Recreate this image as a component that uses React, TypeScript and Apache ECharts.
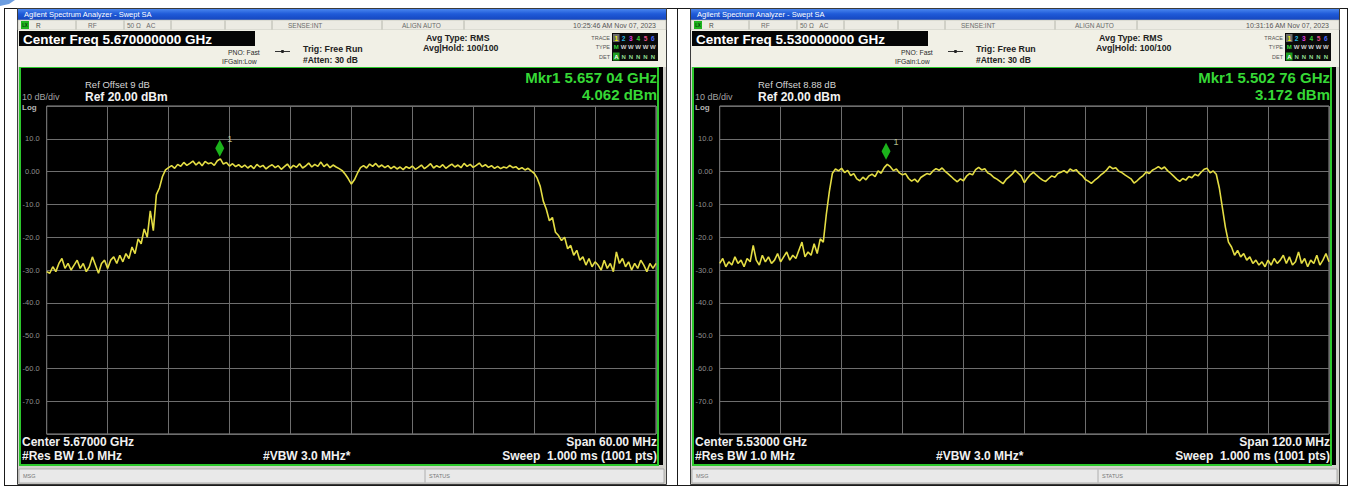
import { useEffect, useRef } from "react";
import * as echarts from "echarts";

const FONT = '"Liberation Sans", Arial, Helvetica, sans-serif';

// Sweep settings of the two captures (MHz)
const leftCenterMHz = 5670;
const leftSpanMHz = 60;
const rightCenterMHz = 5530;
const rightSpanMHz = 120;

// Amplitude scale
const refLevel = 20;
const dBPerDiv = 10;
const yTickLabels: Record<string, string> = {
  "10": "10.0",
  "0": "0.00",
  "-10": "-10.0",
  "-20": "-20.0",
  "-30": "-30.0",
  "-40": "-40.0",
  "-50": "-50.0",
  "-60": "-60.0",
  "-70": "-70.0",
};

// Trace 1, left capture (dBm), evenly spaced over the span
const leftTrace = [
  -30.5, -31, -29, -30.5, -28, -26.5, -29.5, -28, -30, -28.5,
  -27, -29.5, -28, -30.5, -29, -26, -28.5, -31, -28, -27,
  -29.5, -27, -26, -28, -25.5, -27.5, -25, -26.5, -23, -25,
  -20.5, -22, -17.5, -20, -12, -18, -7, -5, -1.5, 0.5,
  1.2, 1.8, 1.0, 2.2, 1.6, 2.8, 1.9, 2.5, 3.2, 2.0,
  2.9, 1.8, 3.1, 2.4, 2.7, 1.9, 3.3, 3.9, 2.3, 2.8,
  1.7, 2.4, 1.5, 2.1, 1.3, 2.0, 1.1, 1.8, 0.9, 2.2,
  1.4, 1.9, 0.8, 1.6, 2.1, 1.2, 1.8, 0.7, 1.5, 2.3,
  1.0, 1.9, 1.3, 2.4, 1.1, 1.7, 2.6, 1.4, 2.2, 1.6,
  2.9, 1.5, 2.3, 1.2, 2.0, 1.4, 0.9, 0.3, -0.8, -2.2,
  -3.8, -2.5, -0.5, 1.2, 1.8, 1.1, 2.3, 1.6, 2.5, 1.4,
  2.0, 1.2, 1.8, 0.9, 1.6, 0.8, 1.4, 0.6, 1.5, 1.0,
  1.7, 0.7, 1.3, 2.0, 0.9, 1.6, 2.4, 1.1, 1.8, 1.3,
  2.1, 1.0, 1.7, 2.3, 1.4, 2.0, 1.2, 2.5, 1.6, 2.2,
  1.3, 1.9, 2.6, 1.5, 2.1, 1.3, 1.8, 1.0, 1.6, 0.9,
  1.4, 1.1, 1.9, 1.2, 1.5, 0.7, 1.2, 0.5, 1.0, 0.2,
  -0.5, -2.0, -4.5, -9, -11.5, -15, -14, -18.5, -19.5, -21,
  -20, -23.5, -22.5, -25.5, -24, -27, -26, -28.5, -26.5, -29,
  -27.5, -28.5, -30, -27, -29.5, -28, -30.5, -24.5, -28, -26.5,
  -29, -27.5, -30, -28, -29.5, -27, -28.5, -30.5, -28, -29.5,
  -28,
];

// Trace 1, right capture (dBm), evenly spaced over the span
const rightTrace = [
  -28, -26.5, -29, -27.5, -28.5, -26, -28, -27, -29, -26.5,
  -27.5, -22.5, -27, -28.5, -25.5, -27.5, -26, -28, -27, -25,
  -27.5, -26, -24.5, -27, -25.5, -26.5, -24, -21.5, -26, -24.5,
  -25.5, -22, -25, -20.5, -21.5, -13, -6, -0.5, 0.8, 0.2,
  1.0, -0.3, 0.4, -1.2, -0.6, -2.2, -2.8, -1.7, -2.5, -1.3,
  -0.8, -1.5, 0.2, -0.5, 1.2, 2.2, 1.5, 0.3, 0.8, -0.4,
  -1.0, -0.6, -2.1, -2.9, -2.3, -3.2, -1.8, -1.2, -0.6, -0.9,
  0.2, 0.9, 0.4, 1.1, 0.1, -0.7, -1.5, -2.4, -3.1, -2.2,
  -2.8, -1.4, -0.6, -1.0, 0.6, 1.3, 0.5, 0.9, -0.4, -0.9,
  -1.8, -2.3, -3.0, -3.7, -2.4, -1.6, -0.8, 0.4, -0.5, -1.4,
  -3.4, -2.0, -0.9, -0.2, -1.1, -1.9, -2.6, -3.0, -2.1, -1.3,
  -1.7, -0.6, -0.2, 0.3, -0.4, 0.8, 0.2, 0.6, -0.5, -1.2,
  -2.4, -2.9, -3.6, -2.7, -2.0, -1.1, -0.4, 0.5, 1.6, 0.9,
  1.2, 0.1, -0.3, -1.0, -1.6, -2.2, -3.5, -2.8, -1.9, -1.2,
  -0.1, -0.6, 0.4, 0.9, 1.5, 0.8, 1.4, 0.3, -0.5, -1.4,
  -2.3, -3.0, -2.1, -2.6, -1.5, -1.9, -0.8, -1.3, -0.2, 0.7,
  1.0, -0.4, 0.2, -0.8, -5, -11, -17, -21.5, -23, -25.5,
  -24, -26, -25, -27, -26, -28, -27, -28.5, -27.5, -29,
  -27, -28.5, -26.5, -28, -27, -25.5, -28, -26, -28.5, -27.5,
  -24.5, -28, -26.5, -29, -27, -28, -25.5, -28.5, -27, -25,
  -27.5,
];

const leftMarker = { freqMHz: 5657.04, level: 4.062 };
const rightMarker = { freqMHz: 5502.76, level: 3.172 };

const panels = [
  {
    ox: 0,
    time: "10:25:46 AM Nov 07, 2023",
    centerMHz: leftCenterMHz,
    spanMHz: leftSpanMHz,
    refOffset: "Ref Offset 9 dB",
    spanLabel: "Span 60.00 MHz",
    trace: leftTrace,
    marker: leftMarker,
  },
  {
    ox: 673,
    time: "10:31:16 AM Nov 07, 2023",
    centerMHz: rightCenterMHz,
    spanMHz: rightSpanMHz,
    refOffset: "Ref Offset 8.88 dB",
    spanLabel: "Span 120.0 MHz",
    trace: rightTrace,
    marker: rightMarker,
  },
];

const traceColors = ["#f0f000", "#2ab8e8", "#e03ce0", "#38d838", "#e8508a", "#4a6aff"];

function chrome(p: (typeof panels)[number]) {
  const ox = p.ox;
  const els: any[] = [];
  const rect = (x: number, y: number, w: number, h: number, style: any, z = -5) =>
    els.push({ type: "rect", shape: { x: x + ox, y, width: w, height: h }, style, z, silent: true });
  const line = (x1: number, y1: number, x2: number, y2: number, stroke: string, w = 1, z = -4) =>
    els.push({ type: "line", shape: { x1: x1 + ox, y1, x2: x2 + ox, y2 }, style: { stroke, lineWidth: w }, z, silent: true });
  const text = (
    x: number,
    y: number,
    t: string,
    size: number,
    fill: string,
    bold = false,
    align: "left" | "right" | "center" = "left"
  ) =>
    els.push({
      type: "text",
      x: x + ox,
      y,
      z: 5,
      silent: true,
      style: {
        text: t,
        fontSize: size,
        fontFamily: FONT,
        fontWeight: bold ? "bold" : "normal",
        fill,
        align,
        verticalAlign: "middle",
      },
    });

  // window frame
  rect(17.5, 8.5, 649, 476, { fill: "#d2d1cb", stroke: "#3c3c3c", lineWidth: 1 }, -8);
  // title bar
  rect(18, 9, 648, 11, {
    fill: new echarts.graphic.LinearGradient(0, 0, 0, 1, [
      { offset: 0, color: "#4a86ee" },
      { offset: 0.45, color: "#1f5ad8" },
      { offset: 1, color: "#1546bf" },
    ]),
  });
  text(24, 14.5, "Agilent Spectrum Analyzer - Swept SA", 7.5, "#ffffff");

  // status row
  rect(18, 20, 648, 10, { fill: "#ecebe3", stroke: "#b8b8b0", lineWidth: 0.6 });
  [76, 124, 171, 225, 272, 382, 464].forEach((x) => line(x, 20.5, x, 29.5, "#a8a8a0", 0.8));
  rect(21, 21, 8, 8, { fill: "#1fb51f" }, -3);
  text(25, 25.2, "LX", 4.5, "#0b3a0b", true, "center");
  text(36, 25.2, "R", 6.5, "#4a4a4a");
  text(88, 25.2, "RF", 6.5, "#6a6a6a");
  text(127, 25.2, "50 \u03A9   AC", 6.5, "#6a6a6a");
  text(288, 25.2, "SENSE:INT", 6.5, "#6a6a6a");
  text(402, 25.2, "ALIGN AUTO", 6.5, "#6a6a6a");
  text(656, 25.2, p.time, 7, "#555555", false, "right");

  // settings header
  rect(18, 30, 648, 37, { fill: "#f1f0e6" });
  rect(19, 31, 236, 15, { fill: "#050505" }, -3);
  text(23, 39, `Center Freq ${(p.centerMHz / 1000).toFixed(9)} GHz`, 13.5, "#ffffff", true);
  text(228, 52, "PNO: Fast", 6.8, "#2a2a2a");
  text(222, 61.5, "IFGain:Low", 6.8, "#2a2a2a");
  line(275, 51.5, 290, 51.5, "#333333", 1, -3);
  els.push({ type: "circle", shape: { cx: 282.5 + ox, cy: 51.5, r: 1.6 }, style: { fill: "#222" }, z: -2, silent: true });
  text(303, 49, "Trig: Free Run", 8.8, "#222222", true);
  text(303, 60, "#Atten: 30 dB", 8.5, "#222222", true);
  text(426, 38, "Avg Type: RMS", 8.8, "#222222", true);
  text(423, 48, "Avg|Hold: 100/100", 8.8, "#222222", true);

  // trace / type / detector block
  text(610, 38, "TRACE", 5.5, "#555555", false, "right");
  text(610, 47, "TYPE", 5.5, "#555555", false, "right");
  text(610, 56.5, "DET", 5.5, "#555555", false, "right");
  rect(612, 33, 46, 28, { fill: "#0a0a0a" }, -3);
  rect(613, 34, 6.5, 8, { fill: "#6a6a6a" }, -2);
  rect(613, 52.5, 6.5, 8, { fill: "#1f9f1f" }, -2);
  traceColors.forEach((c, k) => {
    const x = 616.3 + k * 7.3;
    text(x, 38, String(k + 1), 6.5, c, true, "center");
    text(x, 47, k === 0 ? "M" : "W", 6, k === 0 ? "#38d838" : "#cfcfcf", true, "center");
    text(x, 56.5, k === 0 ? "A" : "N", 6, k === 0 ? "#ffffff" : "#8fdc8f", true, "center");
  });

  // measurement screen
  rect(20, 67, 638, 398, { fill: "#000000", stroke: "#2cc82c", lineWidth: 2 }, -6);
  rect(659, 67, 4, 398, { fill: "#000000" }, -6);

  text(85, 84, p.refOffset, 9.5, "#d6d6d6");
  text(85, 97, `Ref ${refLevel.toFixed(2)} dBm`, 12, "#f2f2f2", true);
  text(22, 96.5, `${dBPerDiv} dB/div`, 9, "#a4a4a4");
  text(22, 107.5, "Log", 8, "#b4b4b4", true);

  const g = (p.marker.freqMHz / 1000).toFixed(5);
  text(657, 77, `Mkr1 ${g.slice(0, 5)} ${g.slice(5)} GHz`, 15, "#36d836", true, "right");
  text(657, 94, `${p.marker.level.toFixed(3)} dBm`, 15, "#36d836", true, "right");

  text(22, 442, `Center ${(p.centerMHz / 1000).toFixed(5)} GHz`, 12, "#f0f0f0", true);
  text(22, 456, "#Res BW 1.0 MHz", 12, "#f0f0f0", true);
  text(263, 456, "#VBW 3.0 MHz*", 12, "#f0f0f0", true);
  text(657, 442, p.spanLabel, 12, "#f0f0f0", true, "right");
  text(657, 456, "Sweep  1.000 ms (1001 pts)", 12, "#f0f0f0", true, "right");

  // message / status bar
  rect(19, 469, 645, 14, { fill: "#e9e9e9", stroke: "#a0a0a0", lineWidth: 0.8 });
  line(425, 469.5, 425, 482.5, "#a0a0a0", 0.8);
  text(23, 476, "MSG", 5.5, "#777777");
  text(429, 476, "STATUS", 5.5, "#777777");
  return els;
}

export default function App() {
  const ref = useRef<HTMLDivElement>(null);

  useEffect(() => {
    if (!ref.current) return;
    const chart = echarts.init(ref.current, undefined, { renderer: "svg" });

    const graphic: any[] = [
      // page rules
      { type: "line", shape: { x1: 4.5, y1: 8, x2: 4.5, y2: 486 }, style: { stroke: "#1a1a1a", lineWidth: 1 }, z: -9, silent: true },
      { type: "line", shape: { x1: 677.5, y1: 8, x2: 677.5, y2: 486 }, style: { stroke: "#1a1a1a", lineWidth: 1 }, z: -9, silent: true },
      { type: "line", shape: { x1: 1347.5, y1: 8, x2: 1347.5, y2: 486 }, style: { stroke: "#1a1a1a", lineWidth: 1 }, z: -9, silent: true },
      { type: "line", shape: { x1: 4, y1: 8.5, x2: 1348, y2: 8.5 }, style: { stroke: "#1a1a1a", lineWidth: 1 }, z: -9, silent: true },
      { type: "line", shape: { x1: 4, y1: 485.5, x2: 1348, y2: 485.5 }, style: { stroke: "#1a1a1a", lineWidth: 1 }, z: -9, silent: true },
      { type: "polygon", shape: { points: [[0, 0], [15, 0], [9, 4], [0, 6]] }, style: { fill: "#6c9de0" }, z: -9, silent: true },
      ...chrome(panels[0]),
      ...chrome(panels[1]),
    ];

    const grids = panels.map((p) => ({
      left: 46.7 + p.ox,
      top: 106,
      width: 609.3,
      height: 328,
      show: true,
      borderColor: "#8e8e8e",
      borderWidth: 1,
      backgroundColor: "rgba(0,0,0,0)",
    }));

    const xAxes = panels.map((p, i) => ({
      type: "value",
      gridIndex: i,
      min: -p.spanMHz / 2,
      max: p.spanMHz / 2,
      interval: p.spanMHz / 10,
      axisLine: { show: false },
      axisTick: { show: false },
      axisLabel: { show: false },
      splitLine: { show: true, lineStyle: { color: "#6e6e6e", width: 1 } },
    }));

    const yAxes = panels.map((_, i) => ({
      type: "value",
      gridIndex: i,
      min: refLevel - 10 * dBPerDiv,
      max: refLevel,
      interval: dBPerDiv,
      axisLine: { show: false },
      axisTick: { show: false },
      axisLabel: {
        margin: 7,
        color: "#8f8f8f",
        fontSize: 7.5,
        fontFamily: FONT,
        formatter: (v: number) => yTickLabels[String(v)] ?? "",
      },
      splitLine: { show: true, lineStyle: { color: "#6e6e6e", width: 1 } },
    }));

    const series: any[] = [];
    panels.forEach((p, i) => {
      const n = p.trace.length;
      const step = p.spanMHz / (n - 1);
      series.push({
        type: "line",
        xAxisIndex: i,
        yAxisIndex: i,
        showSymbol: false,
        symbol: "none",
        z: 3,
        lineStyle: { color: "#e4dd44", width: 1.6 },
        data: p.trace.map((v, k) => [-p.spanMHz / 2 + k * step, v]),
      });
      series.push({
        type: "scatter",
        xAxisIndex: i,
        yAxisIndex: i,
        z: 4,
        symbol: "diamond",
        symbolSize: [9, 17],
        symbolOffset: [0, -10],
        itemStyle: { color: "#22e022" },
        label: {
          show: true,
          formatter: "1",
          position: [12, -5],
          color: "#dfe6b0",
          fontSize: 9,
          fontFamily: FONT,
        },
        data: [[p.marker.freqMHz - p.centerMHz, p.marker.level]],
      });
    });

    chart.setOption({
      animation: false,
      backgroundColor: "#ffffff",
      grid: grids,
      xAxis: xAxes,
      yAxis: yAxes,
      series,
      graphic,
    });

    return () => chart.dispose();
  }, []);

  return (
    <div
      ref={ref}
      style={{ position: "absolute", left: 0, top: 0, width: 1357, height: 488 }}
    />
  );
}
